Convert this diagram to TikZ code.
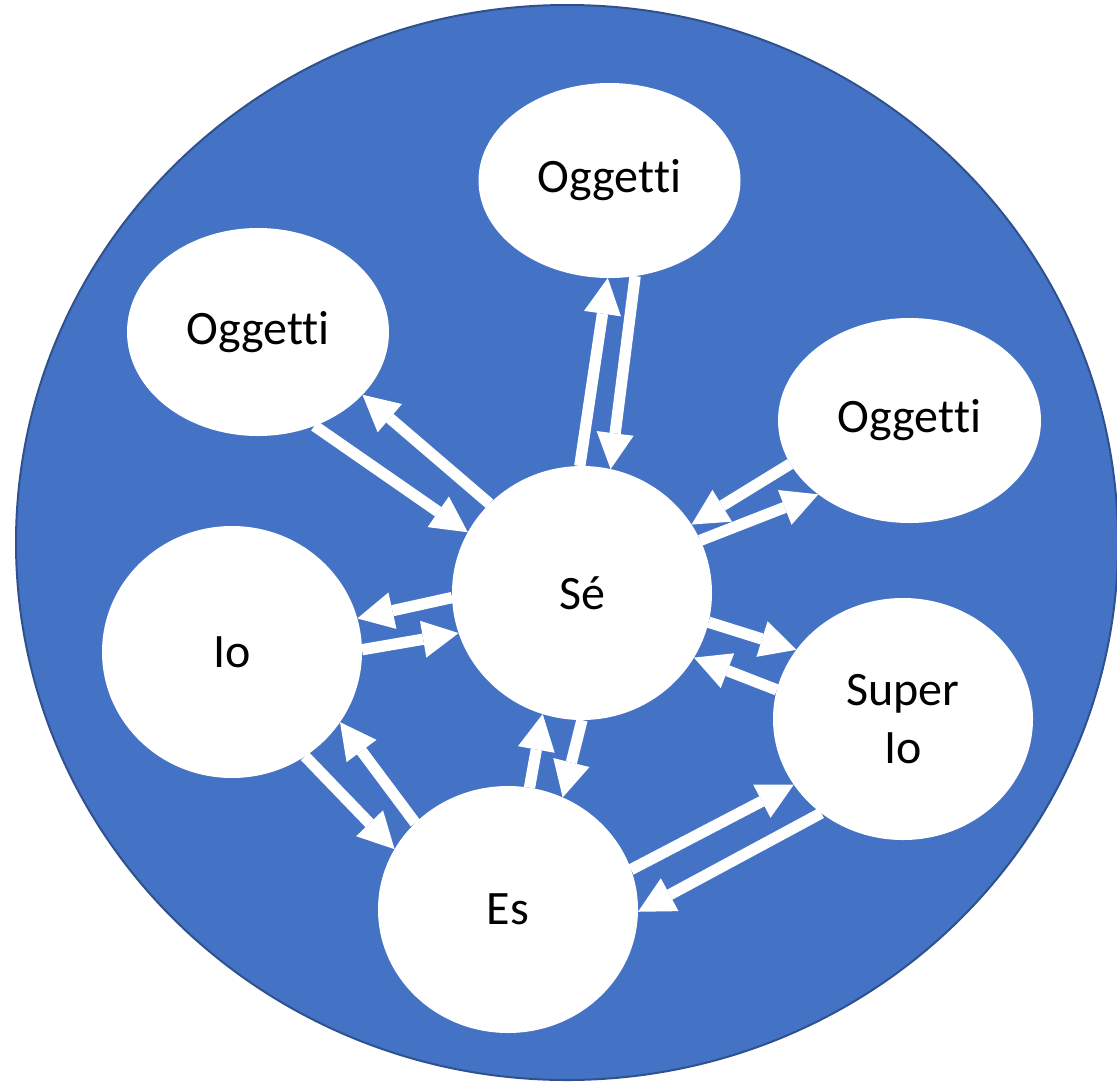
\documentclass[tikz,border=0pt]{standalone}
\usepackage{fontspec}
\setmainfont[Ligatures=NoCommon]{Carlito}
\usetikzlibrary{shapes.geometric,arrows.meta}
\definecolor{psyblue}{RGB}{68,114,196}
\definecolor{psyrim}{RGB}{47,82,143}
\tikzset{every picture/.style={line width=0.75pt}}
\tikzset{
  bubble/.style={ellipse, fill=white, draw=none, inner sep=0pt, outer sep=0pt,
    font=\fontsize{36}{43}\selectfont, align=center},
  flow/.style={draw=white, line width=8.5pt,
    -{Triangle[length=27pt,width=28pt,line width=0pt]}}
}

\begin{document}
\begin{tikzpicture}[x=0.75pt,y=0.75pt,yscale=-1,xscale=1]
\useasboundingbox (0,0) rectangle (1117,1086);

%Shape: Ellipse [background]
\draw [draw=psyrim, fill=psyblue, line width=1.5pt] (567,542.5) ellipse [x radius=551, y radius=537.5];

% Text Node
\node [bubble, minimum width=196.5pt, minimum height=146.25pt] (og1) at (609.5,180.5) {Oggetti};
% Text Node
\node [bubble, minimum width=196.5pt, minimum height=156pt] (og2) at (258,332) {Oggetti};
% Text Node
\node [bubble, minimum width=197.25pt, minimum height=153.75pt] (og3) at (909.5,420.5) {Oggetti};
% Text Node
\node [bubble, minimum width=195pt, minimum height=190.5pt] (se) at (582,593) {Sé};
% Text Node
\node [bubble, minimum width=195pt, minimum height=189pt] (io) at (232,652) {Io};
% Text Node
\node [bubble, minimum width=195pt, minimum height=181.5pt] (sup) at (903,719) {Super\\Io};
% Text Node
\node [bubble, minimum width=195pt, minimum height=185.25pt] (es) at (508,909.5) {Es};

% Connection
\draw [flow] (se.91) -- (og1.269);
\draw [flow] (og1.285) -- (se.77);
% Connection
\draw [flow] (og2.301) -- (se.152);
\draw [flow] (se.136) -- (og2.329);
% Connection
\draw [flow] (og3.200) -- (se.32);
\draw [flow] (se.24) -- (og3.219);
% Connection
\draw [flow] (se.182) -- (io.15);
\draw [flow] (io.1) -- (se.198);
% Connection
\draw [flow] (se.347) -- (sup.147);
\draw [flow] (sup.167) -- (se.330);
% Connection
\draw [flow] (io.305) -- (es.152);
\draw [flow] (es.137) -- (io.327);
% Connection
\draw [flow] (es.80) -- (se.252);
\draw [flow] (se.270) -- (es.64);
% Connection
\draw [flow] (es.18) -- (sup.211);
\draw [flow] (sup.229) -- (es.359);

\end{tikzpicture}
\end{document}
